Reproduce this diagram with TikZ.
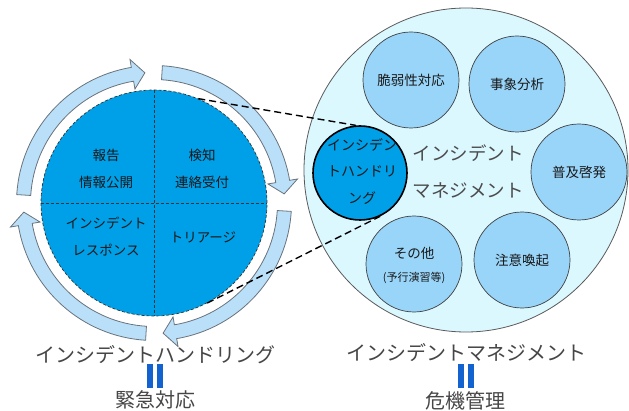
\documentclass[tikz,border=0pt]{standalone}
\usepackage{fontspec}
\setmainfont{Noto Sans CJK JP}
\usetikzlibrary{calc}
\definecolor{hcblue}{RGB}{0,160,233}
\definecolor{arrowfill}{RGB}{186,224,249}
\definecolor{arrowline}{RGB}{105,115,125}
\definecolor{bigfill}{RGB}{220,248,255}
\definecolor{smallfill}{RGB}{153,213,249}
\definecolor{barblue}{RGB}{18,98,208}
\definecolor{labelgray}{RGB}{70,70,70}
\tikzset{
  arrowbox/.style={fill=arrowfill, draw=arrowline, line width=0.8pt, line join=miter},
  topic/.style={circle, minimum size=96pt, inner sep=0pt, fill=smallfill, draw=black!75, line width=0.7pt},
  ttext/.style={text=black!90, font=\fontsize{13.5}{16}\selectfont, inner sep=0pt, align=center},
  qtext/.style={text=black!90, font=\fontsize{13.5}{27}\selectfont, inner sep=0pt, align=center},
  biglabel/.style={text=labelgray, font=\fontsize{20}{24}\selectfont, inner sep=0pt},
  zoomline/.style={dashed, dash pattern=on 7pt off 4pt, line width=1.4pt, black},
  divline/.style={dashed, dash pattern=on 3pt off 2pt, line width=0.7pt, black!80},
}
\begin{document}
\begin{tikzpicture}[x=1pt,y=1pt]
\useasboundingbox (0,0) rectangle (629,410);
% right big circle
\node[circle, minimum size=324pt, inner sep=0pt, fill=bigfill, draw=black!65, line width=0.8pt] (im) at (466,240) {};
\node[topic] (vul) at (411,330) {};
\node[topic] (ana) at (517,326) {};
\node[topic] (edu) at (579,238) {};
\node[topic] (warn) at (522,150) {};
\node[topic] (oth) at (414,146) {};
\node[ttext] at (vul) {脆弱性対応};
\node[ttext] at (ana) {事象分析};
\node[ttext] at (edu) {普及啓発};
\node[ttext] at (warn) {注意喚起};
\node[ttext] (oth1) at (414,157) {その他};
\node[text=black!90, font=\fontsize{11}{13}\selectfont, inner sep=0pt] (oth2) at (414,132) {(予行演習等)};
\node[text=black!70, font=\fontsize{18.5}{37}\selectfont, inner sep=0pt, align=center] (imtext) at (468,238.5) {インシデント\\マネジメント};
% left circle
\node[circle, minimum size=226pt, inner sep=0pt, fill=hcblue, draw=black!80, line width=0.7pt, dashed, dash pattern=on 3pt off 2pt] (hc) at (154,207) {};
\draw[divline] (hc.north) -- (hc.south);
\draw[divline] (hc.west) -- (hc.east);
\node[qtext] (q1) at (106,241.5) {報告\\情報公開};
\node[qtext] (q2) at (202,241.5) {検知\\連絡受付};
\node[qtext] (q3) at (106,173.5) {インシデント\\レスポンス};
\node[qtext] (q4) at (203,173) {トリアージ};
% cycle arrows
\foreach \r in {0,90,180,270} {
  \pgfmathsetmacro\a{86.5-\r}
  \pgfmathsetmacro\b{9.5-\r}
  \pgfmathsetmacro\c{4-\r}
  \draw[arrowbox] ($(hc.center)+(\a:137.5pt)$) arc[start angle=\a, end angle=\b, radius=137.5pt]
    -- ($(hc.center)+(\b:145.5pt)$) -- ($(hc.center)+(\c:130.5pt)$) -- ($(hc.center)+(\b:115.5pt)$)
    -- ($(hc.center)+(\b:123.5pt)$) arc[start angle=\b, end angle=\a, radius=123.5pt] -- cycle;
}
% handling circle inside management
\node[circle, minimum size=94pt, inner sep=0pt, fill=hcblue, draw=black, line width=1.6pt] (ih) at (360,237) {};
\draw[zoomline] (hc.67.5) -- (ih.95);
\draw[zoomline] (hc.-62) -- (ih.-65);
\node[text=black!90, font=\fontsize{14}{26.5}\selectfont, inner sep=0pt, align=center] (ihtext) at (362,238.5) {インシデン\\トハンドリ\\ング};
% bottom labels
\node[biglabel] (lhand) at (155,55) {インシデントハンドリング};
\node[biglabel] (lemer) at (155,10) {緊急対応};
\node[biglabel] (lman) at (466,57) {インシデントマネジメント};
\node[biglabel] (lcris) at (465,9) {危機管理};
\fill[barblue] (147,22) rectangle (153,46);
\fill[barblue] (157,22) rectangle (163,46);
\fill[barblue] (458,22) rectangle (464,46);
\fill[barblue] (468,22) rectangle (474,46);
\end{tikzpicture}
\end{document}
